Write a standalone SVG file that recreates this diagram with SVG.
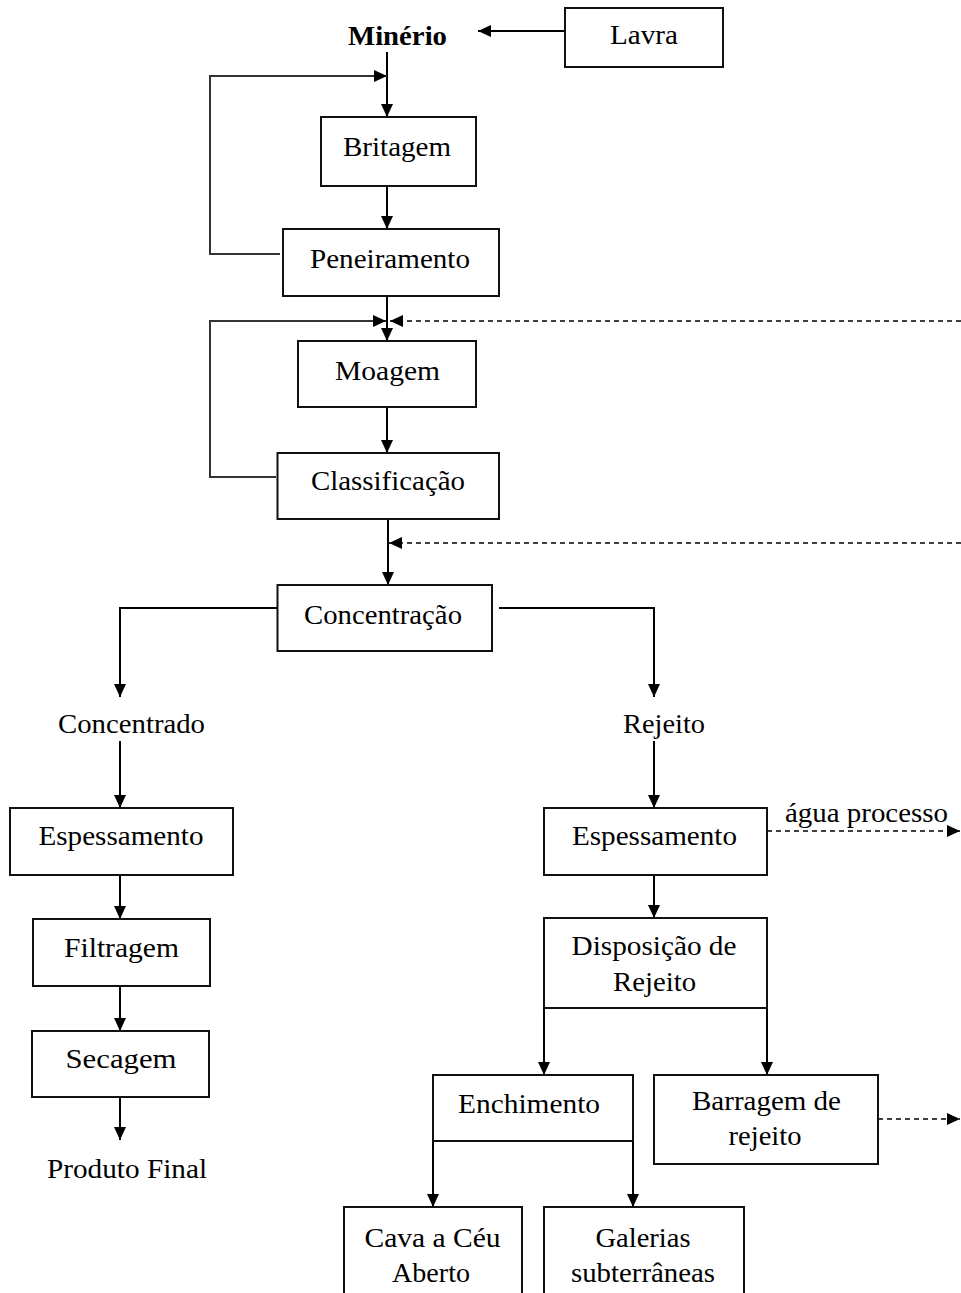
<svg xmlns="http://www.w3.org/2000/svg" width="961" height="1293" viewBox="0 0 961 1293">
<defs>
<marker id="ah" markerUnits="userSpaceOnUse" markerWidth="13" markerHeight="12" refX="13" refY="6" orient="auto">
<path d="M0,0 L13,6 L0,12 z" fill="#000"/>
</marker>
<style>
.box{fill:#fff;stroke:#111;stroke-width:2}
.t{font-family:"Liberation Serif","Times New Roman",serif;font-size:28px;fill:#000;text-anchor:middle}
.b{font-weight:bold}
.c{fill:none;stroke:#000;stroke-width:2}
.l{fill:none;stroke:#333;stroke-width:2}
.d{fill:none;stroke:#000;stroke-width:1.6;stroke-dasharray:5 4}
.a{marker-end:url(#ah)}
</style>
</defs>
<rect width="961" height="1293" fill="#fff"/>
<g id="connectors">
<path class="c a" d="M565,31 H478"/>
<path class="c a" d="M387,52 V117"/>
<path class="l a" d="M280,254 H210 V76 H387"/>
<path class="c a" d="M387,186 V229"/>
<path class="c a" d="M387,296 V341"/>
<path class="l a" d="M276,477 H210 V321 H386"/>
<path class="d a" d="M961,321 H390"/>
<path class="c a" d="M387,407 V453"/>
<path class="c a" d="M388,519 V585"/>
<path class="d a" d="M961,543 H389"/>
<path class="c a" d="M277,608 H120 V697"/>
<path class="c a" d="M499,608 H654 V697"/>
<path class="c a" d="M120,741 V808"/>
<path class="c a" d="M120,875 V919"/>
<path class="c a" d="M120,986 V1031"/>
<path class="c a" d="M120,1097 V1140"/>
<path class="c a" d="M654,741 V808"/>
<path class="d a" d="M767,831 H960"/>
<path class="c a" d="M654,875 V918"/>
<path class="c a" d="M544,1008 V1075"/>
<path class="c a" d="M767,1008 V1075"/>
<path class="d a" d="M878,1119 H960"/>
<path class="c a" d="M433,1141 V1207"/>
<path class="c a" d="M633,1141 V1207"/>
</g>
<g id="minerio"><text class="t b" x="397.5" y="45" textLength="99" lengthAdjust="spacingAndGlyphs">Minério</text></g>
<g id="lavra"><rect class="box" x="565" y="8" width="158" height="59"/><text class="t" x="644" y="44" textLength="68" lengthAdjust="spacingAndGlyphs">Lavra</text></g>
<g id="britagem"><rect class="box" x="321" y="117" width="155" height="69"/><text class="t" x="397" y="156" textLength="108" lengthAdjust="spacingAndGlyphs">Britagem</text></g>
<g id="peneiramento"><rect class="box" x="283" y="229" width="216" height="67"/><text class="t" x="390" y="268" textLength="160" lengthAdjust="spacingAndGlyphs">Peneiramento</text></g>
<g id="moagem"><rect class="box" x="298" y="341" width="178" height="66"/><text class="t" x="387.5" y="380" textLength="105" lengthAdjust="spacingAndGlyphs">Moagem</text></g>
<g id="classificacao"><rect class="box" x="277.5" y="453" width="221.5" height="66"/><text class="t" x="388" y="490" textLength="154" lengthAdjust="spacingAndGlyphs">Classificação</text></g>
<g id="concentracao"><rect class="box" x="277.5" y="585" width="214.5" height="66"/><text class="t" x="383" y="624" textLength="158" lengthAdjust="spacingAndGlyphs">Concentração</text></g>
<g id="concentrado"><text class="t" x="131.5" y="733" textLength="147" lengthAdjust="spacingAndGlyphs">Concentrado</text></g>
<g id="rejeito"><text class="t" x="664" y="733" textLength="82" lengthAdjust="spacingAndGlyphs">Rejeito</text></g>
<g id="espessamento-l"><rect class="box" x="10" y="808" width="223" height="67"/><text class="t" x="121" y="845" textLength="165" lengthAdjust="spacingAndGlyphs">Espessamento</text></g>
<g id="filtragem"><rect class="box" x="33" y="919" width="177" height="67"/><text class="t" x="121.5" y="957" textLength="115" lengthAdjust="spacingAndGlyphs">Filtragem</text></g>
<g id="secagem"><rect class="box" x="32" y="1031" width="177" height="66"/><text class="t" x="121" y="1068" textLength="111" lengthAdjust="spacingAndGlyphs">Secagem</text></g>
<g id="produto-final"><text class="t" x="127" y="1178" textLength="160" lengthAdjust="spacingAndGlyphs">Produto Final</text></g>
<g id="espessamento-r"><rect class="box" x="544" y="808" width="223" height="67"/><text class="t" x="654.5" y="845" textLength="165" lengthAdjust="spacingAndGlyphs">Espessamento</text></g>
<g id="agua-processo"><text class="t" x="866.5" y="822" textLength="163" lengthAdjust="spacingAndGlyphs">água processo</text></g>
<g id="disposicao"><rect class="box" x="544" y="918" width="223" height="90"/><text class="t" x="654" y="955" textLength="165" lengthAdjust="spacingAndGlyphs">Disposição de</text><text class="t" x="654.5" y="991" textLength="83" lengthAdjust="spacingAndGlyphs">Rejeito</text></g>
<g id="enchimento"><rect class="box" x="433" y="1075" width="200" height="66"/><text class="t" x="529" y="1113" textLength="142" lengthAdjust="spacingAndGlyphs">Enchimento</text></g>
<g id="barragem"><rect class="box" x="654" y="1075" width="224" height="89"/><text class="t" x="766.5" y="1110" textLength="149" lengthAdjust="spacingAndGlyphs">Barragem de</text><text class="t" x="765" y="1145" textLength="73" lengthAdjust="spacingAndGlyphs">rejeito</text></g>
<g id="cava"><rect class="box" x="344" y="1207" width="178" height="100"/><text class="t" x="432.5" y="1247" textLength="136" lengthAdjust="spacingAndGlyphs">Cava a Céu</text><text class="t" x="431" y="1282" textLength="78" lengthAdjust="spacingAndGlyphs">Aberto</text></g>
<g id="galerias"><rect class="box" x="544" y="1207" width="200" height="100"/><text class="t" x="643" y="1247" textLength="95" lengthAdjust="spacingAndGlyphs">Galerias</text><text class="t" x="643" y="1282" textLength="144" lengthAdjust="spacingAndGlyphs">subterrâneas</text></g>
</svg>
